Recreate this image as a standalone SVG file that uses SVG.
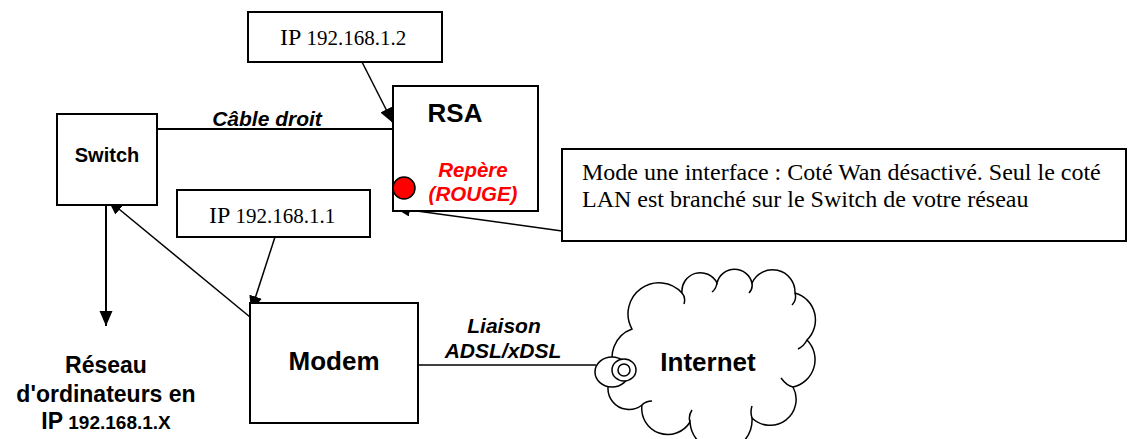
<svg xmlns="http://www.w3.org/2000/svg" width="1128" height="439" viewBox="0 0 1128 439">
<style>
.box{fill:#fff;stroke:#000;stroke-width:2}
.ln{fill:none;stroke:#000;stroke-width:1.5}
.sans{font-family:"Liberation Sans",Arial,sans-serif;font-weight:bold}
.serif{font-family:"Liberation Serif","Times New Roman",serif}
.it{font-style:italic}
.mid{text-anchor:middle}
</style>
<defs>
<marker id="ah" markerUnits="userSpaceOnUse" markerWidth="16" markerHeight="14" refX="15" refY="6.5" orient="auto">
<path d="M0,0 L15,6.5 L0,13 z" fill="#000"/>
</marker>
</defs>
<rect width="1128" height="439" fill="#fff"/>
<g id="connectors">
<line class="ln" x1="157" y1="129" x2="393" y2="129" style="stroke-width:2"/>
<line class="ln" x1="362" y1="62" x2="393" y2="123" marker-end="url(#ah)"/>
<line class="ln" x1="562" y1="231" x2="395" y2="208" marker-end="url(#ah)"/>
<line class="ln" x1="275" y1="237" x2="251" y2="311" marker-end="url(#ah)"/>
<line class="ln" x1="250" y1="317" x2="108" y2="200" marker-end="url(#ah)"/>
<line class="ln" x1="106" y1="205" x2="106" y2="326" marker-end="url(#ah)" style="stroke-width:2"/>
<line class="ln" x1="418" y1="365" x2="596" y2="365"/>
</g>
<g id="ip2">
<rect class="box" x="248" y="12" width="194" height="50"/>
<text class="serif" x="280" y="45"><tspan font-size="24">IP</tspan><tspan font-size="21"> 192.168.1.2</tspan></text>
</g>
<g id="switch">
<rect class="box" x="57" y="114" width="100" height="91"/>
<text class="sans mid" x="107" y="162" font-size="20">Switch</text>
</g>
<g id="cable-label">
<text class="sans it mid" x="267" y="126" font-size="21">Câble droit</text>
</g>
<g id="rsa">
<rect class="box" x="393" y="86" width="145" height="125"/>
<text class="sans mid" x="455" y="122" font-size="26">RSA</text>
<text class="sans it mid" x="473" y="177" font-size="20.5" fill="#f00">Repère</text>
<text class="sans it mid" x="473" y="201" font-size="20.5" fill="#f00">(ROUGE)</text>
<circle cx="404" cy="188" r="11" fill="#f00" stroke="#000" stroke-width="1.5"/>
</g>
<g id="note">
<rect class="box" x="562" y="149" width="564" height="92"/>
<text class="serif" x="582" y="180" font-size="24">Mode une interface : Coté Wan désactivé. Seul le coté</text>
<text class="serif" x="582" y="207" font-size="24">LAN est branché sur le Switch de votre réseau</text>
</g>
<g id="ip1">
<rect class="box" x="177" y="190" width="193" height="47"/>
<text class="serif" x="209" y="223"><tspan font-size="24">IP</tspan><tspan font-size="21"> 192.168.1.1</tspan></text>
</g>
<g id="modem">
<rect class="box" x="250" y="303" width="168" height="120"/>
<text class="sans mid" x="334" y="370" font-size="26">Modem</text>
</g>
<g id="liaison-label">
<text class="sans it mid" x="504" y="333" font-size="21">Liaison</text>
<text class="sans it mid" x="503" y="358" font-size="21">ADSL/xDSL</text>
</g>
<g id="reseau">
<text class="sans mid" x="106" y="373" font-size="23">Réseau</text>
<text class="sans mid" x="106" y="402" font-size="23">d'ordinateurs en</text>
<text class="sans mid" x="106" y="429"><tspan font-size="23">IP</tspan><tspan font-size="19"> 192.168.1.X</tspan></text>
</g>
<g id="internet">
<path class="ln" fill="#fff" d="M632,329 A31,31 0 0 1 682,293 A18.5,18.5 0 0 1 717,283 A18,18 0 0 1 752,283 A22.5,22.5 0 0 1 795,293 A28,28 0 0 1 807,340 A28,28 0 0 1 793,387 A26,26 0 0 1 752,418 A31,31 0 0 1 690,422 A26,26 0 0 1 642,405 A21,21 0 0 1 616,372 A30,30 0 0 1 632,329 Z" style="fill:#fff"/>
<path class="ln" d="M682,293 q4,4 2,11 M717,283 q-1,6 -5,9 M752,283 q1,6 -3,10 M795,293 q2,7 -3,12 M807,340 q-3,6 -9,9 M793,387 q-6,-1 -12,-9 M752,418 q-2,-6 0,-12 M690,422 q-2,-6 2,-12 M642,405 q4,-4 10,-4"/>
<ellipse cx="612" cy="372" rx="17" ry="15" fill="#fff" stroke="#000" stroke-width="1.5"/>
<ellipse cx="624" cy="370" rx="12" ry="11" fill="#fff" stroke="#000" stroke-width="1.5"/>
<circle cx="624" cy="370" r="6" fill="#fff" stroke="#000" stroke-width="1.5"/>
<text class="sans mid" x="708" y="371" font-size="26">Internet</text>
</g>
</svg>
